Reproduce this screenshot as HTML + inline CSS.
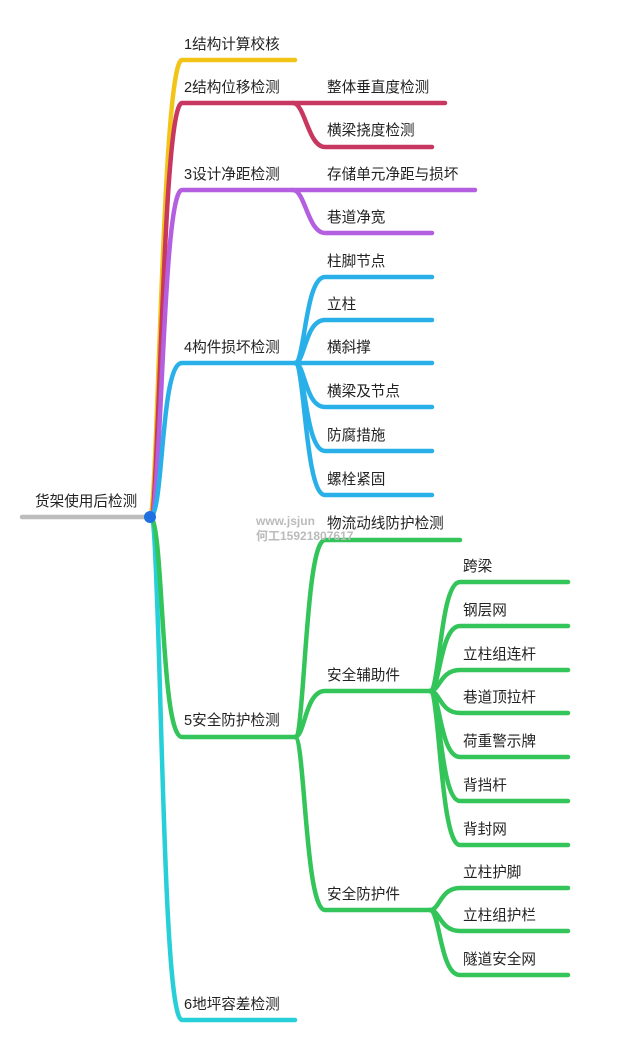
<!DOCTYPE html>
<html><head><meta charset="utf-8"><style>
html,body{margin:0;padding:0;background:#fff;}
svg{display:block;}
text{font-family:"Liberation Sans","Noto Sans CJK SC",sans-serif;font-size:14.6px;fill:#222;}
path{fill:none;stroke-linecap:round;}
</style></head><body>
<svg width="640" height="1059" viewBox="0 0 640 1059">
<g stroke-width="4.5">
<path d="M22 517 L150 517" stroke="#bdbdbd"/>
<path d="M150 517 C158 517,162 60,182 60 L295 60" stroke="#f2c417"/>
<path d="M150 517 C160 517,162 103,182 103 L445 103" stroke="#c8375f"/>
<path d="M293 103 C305 103,308 147,325 147 L432 147" stroke="#c8375f"/>
<path d="M150 517 C162 517,162 190,182 190 L475 190" stroke="#b45ee0"/>
<path d="M293 190 C305 190,308 233,325 233 L432 233" stroke="#b45ee0"/>
<path d="M150 517 C164 517,160 363,182 363 L295 363" stroke="#2ab0e8"/>
<path d="M295 363 C305 363,305 277,325 277 L432 277" stroke="#2ab0e8"/>
<path d="M295 363 C305 363,305 320,325 320 L432 320" stroke="#2ab0e8"/>
<path d="M295 363 L432 363" stroke="#2ab0e8"/>
<path d="M295 363 C305 363,305 407,325 407 L432 407" stroke="#2ab0e8"/>
<path d="M295 363 C305 363,305 451,325 451 L432 451" stroke="#2ab0e8"/>
<path d="M295 363 C305 363,305 495,325 495 L432 495" stroke="#2ab0e8"/>
<path d="M150 517 C162 517,160 1020,182 1020 L295 1020" stroke="#27cfd8"/>
<path d="M150 517 C164 517,160 737,182 737 L295 737" stroke="#33c45a"/>
<path d="M295 737 C305 737,305 540,325 540 L460 540" stroke="#33c45a"/>
<path d="M295 737 C305 737,305 691,325 691 L430 691" stroke="#33c45a"/>
<path d="M295 737 C305 737,305 910,325 910 L430 910" stroke="#33c45a"/>
<path d="M430 691 C440 691,440 582,460 582 L568 582" stroke="#33c45a"/>
<path d="M430 691 C440 691,440 626,460 626 L568 626" stroke="#33c45a"/>
<path d="M430 691 C440 691,440 670,460 670 L568 670" stroke="#33c45a"/>
<path d="M430 691 C440 691,440 713,460 713 L568 713" stroke="#33c45a"/>
<path d="M430 691 C440 691,440 757,460 757 L568 757" stroke="#33c45a"/>
<path d="M430 691 C440 691,440 801,460 801 L568 801" stroke="#33c45a"/>
<path d="M430 691 C440 691,440 845,460 845 L568 845" stroke="#33c45a"/>
<path d="M430 910 C440 910,440 888,460 888 L568 888" stroke="#33c45a"/>
<path d="M430 910 C440 910,440 931,460 931 L568 931" stroke="#33c45a"/>
<path d="M430 910 C440 910,440 975,460 975 L568 975" stroke="#33c45a"/>
</g>
<circle cx="150" cy="517" r="6" fill="#1f6fe0"/>
<text x="35" y="506">货架使用后检测</text>
<text x="184" y="49">1结构计算校核</text>
<text x="184" y="92">2结构位移检测</text>
<text x="327" y="92">整体垂直度检测</text>
<text x="327" y="135">横梁挠度检测</text>
<text x="184" y="179">3设计净距检测</text>
<text x="327" y="179">存储单元净距与损坏</text>
<text x="327" y="222">巷道净宽</text>
<text x="184" y="352">4构件损坏检测</text>
<text x="327" y="266">柱脚节点</text>
<text x="327" y="309">立柱</text>
<text x="327" y="352">横斜撑</text>
<text x="327" y="396">横梁及节点</text>
<text x="327" y="440">防腐措施</text>
<text x="327" y="484">螺栓紧固</text>
<text x="327" y="528">物流动线防护检测</text>
<text x="256" y="525" style="font-size:12px;fill:#bbb;font-weight:bold">www.jsjun</text>
<text x="256" y="540" style="font-size:12px;fill:#bbb;font-weight:bold">何工15921807617</text>
<text x="184" y="725">5安全防护检测</text>
<text x="327" y="680">安全辅助件</text>
<text x="327" y="899">安全防护件</text>
<text x="463" y="571">跨梁</text>
<text x="463" y="615">钢层网</text>
<text x="463" y="659">立柱组连杆</text>
<text x="463" y="702">巷道顶拉杆</text>
<text x="463" y="746">荷重警示牌</text>
<text x="463" y="790">背挡杆</text>
<text x="463" y="834">背封网</text>
<text x="463" y="877">立柱护脚</text>
<text x="463" y="920">立柱组护栏</text>
<text x="463" y="964">隧道安全网</text>
<text x="184" y="1009">6地坪容差检测</text>
</svg>
</body></html>
